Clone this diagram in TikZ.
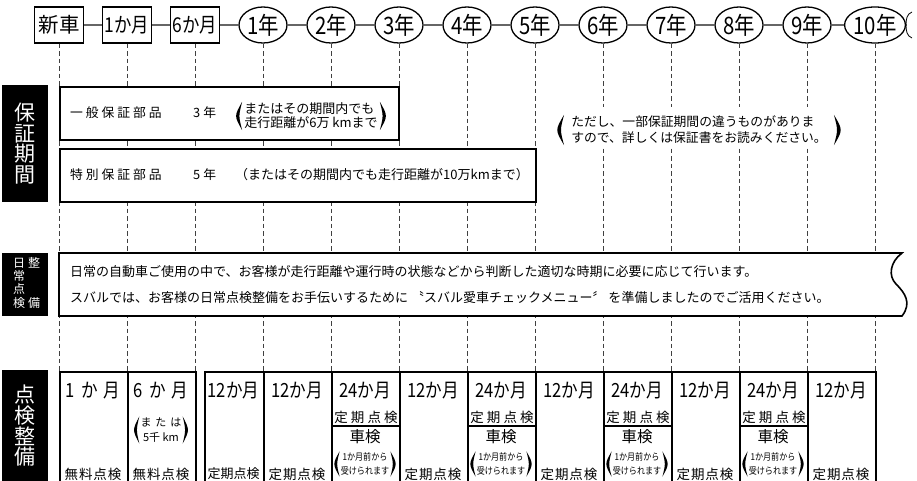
\documentclass[tikz,border=0pt]{standalone}
\usepackage{fontspec}
\newfontfamily\jp{Noto Sans CJK JP}
\newfontfamily\jpn[FakeStretch=0.85]{Noto Sans CJK JP}
\newfontfamily\jps[LetterSpace=23]{Noto Sans CJK JP}
\newfontfamily\jpt[LetterSpace=7]{Noto Sans CJK JP}
\usetikzlibrary{shapes.geometric}
\newcommand\parpair[2][8]{%
  \fill (#2.north west) .. controls ([xshift=-#1pt]#2.west) .. (#2.south west)
    .. controls ([xshift={-0.45*#1pt}]#2.west) .. (#2.north west) -- cycle;
  \fill (#2.north east) .. controls ([xshift=#1pt]#2.east) .. (#2.south east)
    .. controls ([xshift={0.45*#1pt}]#2.east) .. (#2.north east) -- cycle;}

\begin{document}
\begin{tikzpicture}[x=1pt, y=-1pt,
    hd/.style={draw, line width=1.3pt, fill=white, minimum width=49pt, minimum height=36pt, inner sep=0pt, font=\jpn\fontsize{20.5}{20}\selectfont},
    yr/.style={hd, ellipse, minimum width=48pt, font=\jpn\fontsize{24}{20}\selectfont},
    link/.style={draw=black!60, line width=1.3pt},
    guide/.style={draw=black!75, line width=0.8pt, dash pattern=on 4.5pt off 3pt},
    band/.style={draw, line width=1.6pt, fill=white, anchor=north west, inner sep=0pt},
    side/.style={fill=black, text=white, anchor=north west, minimum width=46pt, inner sep=0pt, align=center, font=\jp\fontsize{21}{20.7}\selectfont},
    vsm/.style={text=white, inner sep=0pt, align=center, font=\jp\fontsize{12}{13.3}\selectfont},
    txt/.style={anchor=west, inner sep=0pt, font=\jp\fontsize{13}{14}\selectfont},
    sp/.style={anchor=west, inner sep=0pt, font=\jps\fontsize{12.8}{14}\selectfont},
    cell/.style={draw, line width=1.6pt, anchor=north west, minimum height=120pt, inner sep=0pt},
    mon/.style={inner sep=0pt, font=\jpn\fontsize{19.5}{20}\selectfont},
    chk/.style={inner sep=0pt, font=\jpt\fontsize{13.5}{14}\selectfont},
    kens/.style={inner sep=0pt, font=\jp\fontsize{15.5}{16}\selectfont},
    sml/.style={inner sep=1pt, align=center, font=\jpn\fontsize{9.5}{14}\selectfont},
    sub/.style={line width=1.2pt}
]
\useasboundingbox (0,0) rectangle (917,481);

\node[hd] (h0) at (59,25) {\jp 新車};
\node[hd] (h1) at (127,25) {1か月};
\node[hd] (h2) at (195,25) {6か月};
\node[yr] (h3) at (263,25) {1年};
\node[yr] (h4) at (331,25) {2年};
\node[yr] (h5) at (399,25) {3年};
\node[yr] (h6) at (467,25) {4年};
\node[yr] (h7) at (535,25) {5年};
\node[yr] (h8) at (603,25) {6年};
\node[yr] (h9) at (671,25) {7年};
\node[yr] (h10) at (739,25) {8年};
\node[yr] (h11) at (807,25) {9年};
\node[yr] (h12) at (875,25) {10年};
\coordinate (brk) at (907,25);
\coordinate (base) at (0,371);

\draw[link] (h0) -- (h1) -- (h2) -- (h3) -- (h4) -- (h5) -- (h6) -- (h7) -- (h8) -- (h9) -- (h10) -- (h11) -- (h12) -- (brk);
\draw[line width=0.8pt] (912,12) to[out=200,in=90] (906,25) to[out=-90,in=160] (912,38);

\draw[guide] (h0.south) -- (h0 |- base);
\draw[guide] (h1.south) -- (h1 |- base);
\draw[guide] (h2.south) -- (h2 |- base);
\draw[guide] (h3.south) -- (h3 |- base);
\draw[guide] (h4.south) -- (h4 |- base);
\draw[guide] (h5.south) -- (h5 |- base);
\draw[guide] (h6.south) -- (h6 |- base);
\draw[guide] (h7.south) -- (h7 |- base);
\draw[guide] (h8.south) -- (h8 |- base);
\draw[guide] (h9.south) -- (h9 |- base);
\draw[guide] (h10.south) -- (h10 |- base);
\draw[guide] (h11.south) -- (h11 |- base);
\draw[guide] (h12.south) -- (h12 |- base);

\node[side, minimum height=117pt] (s1) at (2,85) {保\\証\\期\\間};
\node[band, minimum width=339pt, minimum height=53pt] (w1) at (59,86) {};
\node[sp] (w1a) at (70,113) {一般保証部品};
\node[sp] (w1b) at (193,113) {3年};
\node[txt, anchor=center, align=left, inner xsep=2pt, inner ysep=1pt] (w1c) at (311,116) {またはその期間内でも\\走行距離が6万 kmまで};
\parpair{w1c}

\node[band, minimum width=476pt, minimum height=53pt] (w2) at (59,148) {};
\node[sp] (w2a) at (70,175) {特別保証部品};
\node[sp] (w2b) at (193,175) {5年};
\node[txt] (w2c) at (235,175) {（またはその期間内でも走行距離が10万kmまで）};

\node[fill=white, minimum width=300pt, minimum height=41pt] (nb) at (699,128) {};
\node[txt, anchor=center, align=left, inner xsep=7pt, inner ysep=1pt, font=\jp\fontsize{12.8}{16}\selectfont] (nt) at (699,130) {ただし、一部保証期間の違うものがありま\\すので、詳しくは保証書をお読みください。};
\parpair[9]{nt}

\node[side, minimum height=63pt] (s2) at (2,253) {};
\node[vsm] (s2a) at (19,283) {日\\常\\点\\検};
\node[vsm] (s2b) at (34,263) {整};
\node[vsm] (s2c) at (34,303) {備};
\filldraw[fill=white, line width=1.6pt] (59,253) -- (902,253) .. controls (890,262) and (888,276) .. (896,284) .. controls (905,293) and (912,303) .. (902,316) -- (59,316) -- cycle;
\node[txt] (d1) at (70,272) {日常の自動車ご使用の中で、お客様が走行距離や運行時の状態などから判断した適切な時期に必要に応じて行います。};
\node[txt] (d2) at (70,298) {スバルでは、お客様の日常点検整備をお手伝いするために 〝スバル愛車チェックメニュー〞 を準備しましたのでご活用ください。};

\node[side, minimum height=111pt] (s3) at (2,370) {点\\検\\整\\備};
\node[cell, minimum width=68pt] (c1) at (59,371) {};
\node[cell, minimum width=68pt] (c2) at (127,371) {};
\node[cell, minimum width=59pt] (c3) at (204,371) {};
\node[cell, minimum width=68pt] (c4) at (263,371) {};
\node[cell, minimum width=68pt] (c5) at (331,371) {};
\node[cell, minimum width=68pt] (c6) at (399,371) {};
\node[cell, minimum width=68pt] (c7) at (467,371) {};
\node[cell, minimum width=68pt] (c8) at (535,371) {};
\node[cell, minimum width=68pt] (c9) at (603,371) {};
\node[cell, minimum width=68pt] (c10) at (671,371) {};
\node[cell, minimum width=68pt] (c11) at (739,371) {};
\node[cell, minimum width=68pt] (c12) at (807,371) {};

\node[mon] (m1) at (93,391) {1\hspace{6pt}か\hspace{6pt}月};
\node[mon] (m2) at (161,391) {6\hspace{6pt}か\hspace{6pt}月};
\node[mon] (m3) at (233.5,391) {12か月};
\node[mon] (m4) at (297,391) {12か月};
\node[mon] (m5) at (365,391) {24か月};
\node[mon] (m6) at (433,391) {12か月};
\node[mon] (m7) at (501,391) {24か月};
\node[mon] (m8) at (569,391) {12か月};
\node[mon] (m9) at (637,391) {24か月};
\node[mon] (m10) at (705,391) {12か月};
\node[mon] (m11) at (773,391) {24か月};
\node[mon] (m12) at (841,391) {12か月};

\node[sml, font=\jp\fontsize{11}{15}\selectfont] (r2) at (161,430) {ま\hspace{4pt}た\hspace{4pt}は\\5千 km};
\parpair[7]{r2}

\node[chk, font=\jps\fontsize{13.5}{14}\selectfont] (p5) at (366,417) {定期点検};
\node[chk, font=\jps\fontsize{13.5}{14}\selectfont] (p7) at (502,417) {定期点検};
\node[chk, font=\jps\fontsize{13.5}{14}\selectfont] (p9) at (638,417) {定期点検};
\node[chk, font=\jps\fontsize{13.5}{14}\selectfont] (p11) at (774,417) {定期点検};
\draw[sub] ([yshift=-55pt]c5.north west) -- ([yshift=-55pt]c5.north east);
\draw[sub] ([yshift=-55pt]c7.north west) -- ([yshift=-55pt]c7.north east);
\draw[sub] ([yshift=-55pt]c9.north west) -- ([yshift=-55pt]c9.north east);
\draw[sub] ([yshift=-55pt]c11.north west) -- ([yshift=-55pt]c11.north east);
\node[kens] (v5) at (365,437) {車検};
\node[kens] (v7) at (501,437) {車検};
\node[kens] (v9) at (637,437) {車検};
\node[kens] (v11) at (773,437) {車検};
\node[sml] (r5) at (365,464) {1か月前から\\受けられます};
\node[sml] (r7) at (501,464) {1か月前から\\受けられます};
\node[sml] (r9) at (637,464) {1か月前から\\受けられます};
\node[sml] (r11) at (773,464) {1か月前から\\受けられます};
\parpair[7]{r5}
\parpair[7]{r7}
\parpair[7]{r9}
\parpair[7]{r11}

\node[chk] (k1) at (93,474) {無料点検};
\node[chk] (k2) at (161,474) {無料点検};
\node[chk, font=\jp\fontsize{13}{14}\selectfont] (k3) at (233.5,474) {定期点検};
\node[chk] (k4) at (297,474) {定期点検};
\node[chk] (k6) at (433,474) {定期点検};
\node[chk] (k8) at (569,474) {定期点検};
\node[chk] (k10) at (705,474) {定期点検};
\node[chk] (k12) at (841,474) {定期点検};
\end{tikzpicture}
\end{document}
